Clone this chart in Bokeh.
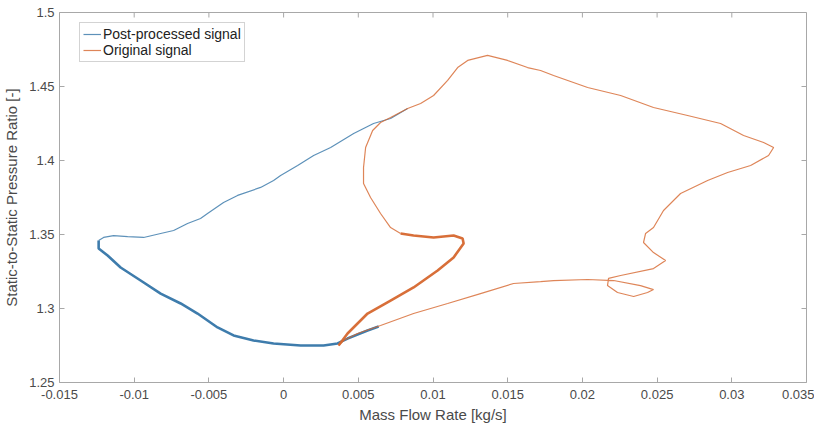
import math
from bokeh.plotting import figure
from bokeh.models import LinearAxis, Range1d, Legend, LegendItem, FixedTicker
from bokeh.embed import file_html
from bokeh.resources import INLINE

# ---- data ----
# Post-processed signal: upper (thin) branch, from top end down to the left tip
blue_up_x = [0.00830, 0.00716, 0.00602, 0.00469, 0.00315, 0.00201, 0.00094, -0.00020,
             -0.00067, -0.00154, -0.00308, -0.00402, -0.00509, -0.00556, -0.00643,
             -0.00736, -0.00823, -0.00937, -0.01044, -0.01138, -0.01205, -0.01238]
blue_up_y = [1.4351, 1.4284, 1.4250, 1.4182, 1.4088, 1.4034, 1.3966, 1.3899,
             1.3865, 1.3818, 1.3764, 1.3716, 1.3642, 1.3608, 1.3574,
             1.3527, 1.3507, 1.3480, 1.3486, 1.3493, 1.3480, 1.3459]
# Post-processed signal: lower (thick) branch
blue_low_x = [-0.01238, -0.01238, -0.01178, -0.01091, -0.00957, -0.00823, -0.00689,
              -0.00576, -0.00442, -0.00335, -0.00201, -0.00067, 0.00114, 0.00268,
              0.00361, 0.00428, 0.00562, 0.00636]
blue_low_y = [1.3459, 1.3405, 1.3358, 1.3277, 1.3189, 1.3101, 1.3034,
              1.2966, 1.2872, 1.2818, 1.2784, 1.2764, 1.2750, 1.2750,
              1.2764, 1.2797, 1.2851, 1.2878]

# Original signal: thick rising branch
orange_thick_x = [0.00368, 0.00428, 0.00562, 0.00716, 0.00870, 0.01031, 0.01138,
                  0.01205, 0.01198, 0.01138, 0.01004, 0.00870, 0.00783]
orange_thick_y = [1.2750, 1.2831, 1.2966, 1.3054, 1.3142, 1.3257, 1.3345,
                  1.3439, 1.3473, 1.3493, 1.3480, 1.3493, 1.3507]
# Original signal: remaining (thin) loop
orange_x = [0.00783, 0.00716, 0.00649, 0.00582, 0.00535, 0.00535, 0.00549, 0.00596,
            0.00649, 0.00716, 0.00830, 0.00917, 0.01004, 0.01098, 0.01165, 0.01232,
            0.01365, 0.01499, 0.01633, 0.01720, 0.01807, 0.02035, 0.02256, 0.02476,
            0.02704, 0.02925, 0.03079, 0.03213, 0.03280, 0.03246, 0.03126, 0.02972,
            0.02838, 0.02657, 0.02543, 0.02476, 0.02423, 0.02409, 0.02476, 0.02557,
            0.02476, 0.02256, 0.02175, 0.02168, 0.02235, 0.02343, 0.02436, 0.02476,
            0.02389, 0.02209, 0.02035, 0.01807, 0.01720, 0.01539, 0.01318, 0.01098,
            0.00870, 0.00649, 0.00495, 0.00402, 0.00368]
orange_y = [1.3507, 1.3547, 1.3642, 1.3750, 1.3845, 1.3953, 1.4088, 1.4203,
            1.4257, 1.4291, 1.4351, 1.4385, 1.4439, 1.4541, 1.4628, 1.4676,
            1.4710, 1.4676, 1.4628, 1.4608, 1.4574, 1.4493, 1.4439, 1.4358,
            1.4304, 1.4250, 1.4169, 1.4122, 1.4088, 1.4034, 1.3966, 1.3919,
            1.3865, 1.3777, 1.3662, 1.3547, 1.3507, 1.3446, 1.3378, 1.3324,
            1.3270, 1.3223, 1.3203, 1.3155, 1.3108, 1.3081, 1.3108, 1.3128,
            1.3155, 1.3189, 1.3196, 1.3189, 1.3182, 1.3169, 1.3101, 1.3034,
            1.2966, 1.2885, 1.2831, 1.2784, 1.2750]

x_ticks = [-0.015, -0.01, -0.005, 0, 0.005, 0.01, 0.015, 0.02, 0.025, 0.03, 0.035]
y_ticks = [1.25, 1.3, 1.35, 1.4, 1.45, 1.5]
x_labels = {-0.015: "-0.015", -0.01: "-0.01", -0.005: "-0.005", 0: "0", 0.005: "0.005",
            0.01: "0.01", 0.015: "0.015", 0.02: "0.02", 0.025: "0.025", 0.03: "0.03",
            0.035: "0.035"}
y_labels = {1.25: "1.25", 1.3: "1.3", 1.35: "1.35", 1.4: "1.4", 1.45: "1.45", 1.5: "1.5"}

BLUE = "#3475a8"
ORANGE = "#d6672e"
FONT = "Liberation Sans"
AX = "#a8a8a8"
TXT = "#4a4a4a"

p = figure(frame_width=747, frame_height=370, output_backend="svg", toolbar_location=None,
           x_range=Range1d(x_ticks[0], x_ticks[-1]), y_range=Range1d(y_ticks[0], y_ticks[-1]),
           min_border_left=53, min_border_top=12, min_border_right=8, min_border_bottom=36,
           x_axis_location=None, y_axis_location=None)
p.background_fill_color = "white"
p.border_fill_color = "white"
p.outline_line_color = AX
p.outline_line_width = 1
p.grid.visible = False

def style(ax, label_map):
    ax.axis_line_color = None
    ax.major_tick_line_color = AX
    ax.major_tick_in = 5
    ax.major_tick_out = 0
    ax.minor_tick_line_color = None
    ax.major_label_text_font = FONT
    ax.major_label_text_color = TXT
    ax.major_label_text_font_size = "13px"
    ax.major_label_overrides = label_map
    ax.axis_label_text_font = FONT
    ax.axis_label_text_color = TXT
    ax.axis_label_text_font_style = "normal"
    ax.axis_label_text_font_size = "15px"

xb = LinearAxis(ticker=FixedTicker(ticks=x_ticks), axis_label="Mass Flow Rate [kg/s]")
style(xb, x_labels)
xb.major_label_standoff = 7
xb.axis_label_standoff = 4
p.add_layout(xb, "below")

yl = LinearAxis(ticker=FixedTicker(ticks=y_ticks), axis_label="Static-to-Static Pressure Ratio [-]")
style(yl, y_labels)
yl.major_label_standoff = 5
yl.axis_label_standoff = 6
p.add_layout(yl, "left")

# inward ticks on the top and right edges of the box
p.ray(x=x_ticks, y=[y_ticks[-1]] * len(x_ticks), length=5, length_units="screen",
      angle=-math.pi / 2, line_color=AX, line_width=1)
p.ray(x=[x_ticks[-1]] * len(y_ticks), y=y_ticks, length=5, length_units="screen",
      angle=math.pi, line_color=AX, line_width=1)

r_b1 = p.line(blue_up_x, blue_up_y, line_color=BLUE, line_width=1.2, line_alpha=0.8)
r_b2 = p.line(blue_low_x, blue_low_y, line_color=BLUE, line_width=2.6, line_alpha=0.95)
r_o1 = p.line(orange_x, orange_y, line_color=ORANGE, line_width=1.2, line_alpha=0.8)
r_o2 = p.line(orange_thick_x, orange_thick_y, line_color=ORANGE, line_width=2.6, line_alpha=0.95)

legend = Legend(items=[LegendItem(label="Post-processed signal", renderers=[r_b1]),
                       LegendItem(label="Original signal", renderers=[r_o1])],
                location=(20, 320))
legend.label_text_font = FONT
legend.label_text_font_size = "14px"
legend.label_text_color = "#222222"
legend.glyph_width = 18
legend.glyph_height = 16
legend.label_height = 16
legend.label_width = 130
legend.label_standoff = 2
legend.padding = 3
legend.spacing = 0
legend.margin = 0
legend.border_line_color = AX
legend.border_line_width = 1
legend.background_fill_color = "white"
legend.background_fill_alpha = 1
p.add_layout(legend, "center")

open("out.html", "w").write(file_html(p, INLINE))
